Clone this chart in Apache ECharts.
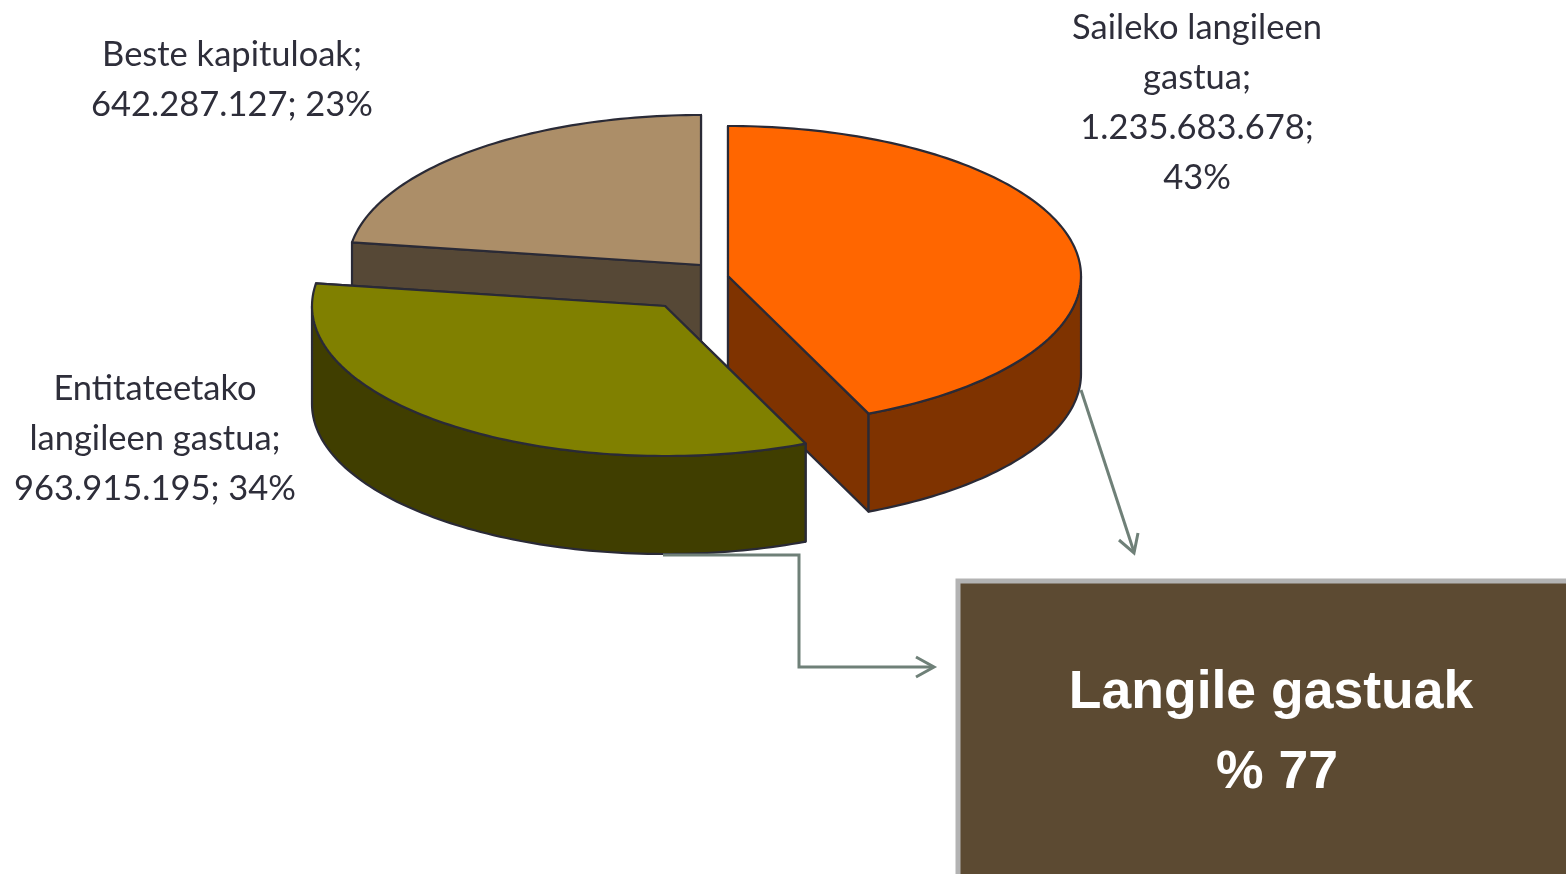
<!DOCTYPE html>
<html>
<head>
	<meta charset="utf-8" />
	<title>Langile gastuak</title>
	<script type="text/javascript" src="https://cdn.jsdelivr.net/npm/echarts@6/dist/echarts.min.js"></script>
	<style type="text/css">
		html, body { margin: 0; padding: 0; background: #fff; }
		#container { width: 1566px; height: 874px; }
	</style>
</head>
<body>
<div id="container"></div>
<script type="text/javascript">
	// datuak
	var categories = ['Saileko langileen\ngastua', 'Entitateetako\nlangileen gastua', 'Beste kapituloak'];
	var values = [1235683678, 963915195, 642287127];
	var labelJoin = [';\n', '; ', '; '];   // balioa eta ehunekoa arteko lotura
	var personnelIdx = [0, 1];             // langile gastuak = lehen bi zatiak

	// estiloak
	var topColors = ['#FF6600', '#808000', '#AC8E68'];
	var sideColors = ['#7F3300', '#403E00', '#564836'];
	var explode = [[28, 1], [-35, 31], [1, -10]];  // zati bakoitzaren desplazamendua
	var zOrder = [2, 3, 1];
	var labelPos = [[1197, 3], [155, 364], [232, 30]];
	var squash = 0.425, depth = 98;

	var total = values.reduce(function (a, b) { return a + b; }, 0);
	var cum = 0;
	var sliceData = values.map(function (v) { var d = [cum, cum + v]; cum += v; return d; });

	function fmt(n) { return String(n).replace(/\B(?=(\d{3})+(?!\d))/g, '.'); }
	function pct(v) { return Math.round(v / total * 100); }

	var chart = echarts.init(document.getElementById('container'));

	function renderItem(params, api) {
		var i = params.dataIndex;
		var s = api.value(0), e = api.value(1);
		var cy = params.coordSys.cy;
		var off = explode[i];
		function P(r, v, dz) {
			var p = api.coord([r, v]);
			return [p[0] + off[0], cy + (p[1] - cy) * squash + off[1] + (dz || 0)];
		}
		function arc(a, b, dz) {
			var n = Math.max(2, Math.ceil((b - a) / total * 300));
			var pts = [];
			for (var k = 0; k <= n; k++) pts.push(P(1, a + (b - a) * k / n, dz));
			return pts;
		}
		var base = zOrder[i] * 10;
		function poly(points, fill, z) {
			return { type: 'polygon', z2: z, shape: { points: points },
				style: { fill: fill, stroke: '#2A2A36', lineWidth: 2.2, lineJoin: 'round' } };
		}
		var children = [];
		// alboko aurpegi erradialak
		[s, e].forEach(function (v) {
			children.push(poly([P(0, v), P(1, v), P(1, v, depth), P(0, v, depth)], sideColors[i], base + 1));
		});
		// aurreko horma
		var ws = Math.max(s, total * 0.25), we = Math.min(e, total * 0.75);
		if (we > ws) {
			var topArc = arc(ws, we, 0);
			var botArc = arc(ws, we, depth).reverse();
			children.push(poly(topArc.concat(botArc), sideColors[i], base + 2));
		}
		// goiko aurpegia
		children.push(poly([P(0, s)].concat(arc(s, e, 0)), topColors[i], base + 3));
		return { type: 'group', children: children };
	}

	var graphics = [];
	categories.forEach(function (name, i) {
		graphics.push({
			type: 'text', x: labelPos[i][0], y: labelPos[i][1], z: 10,
			style: {
				text: name + ';\n' + fmt(values[i]) + labelJoin[i] + pct(values[i]) + '%',
				font: '34.5px Lato', fill: '#2E2E3A', lineHeight: 50,
				align: 'center', textAlign: 'center', verticalAlign: 'top', textVerticalAlign: 'top'
			}
		});
	});

	var personnelPct = Math.round(personnelIdx.reduce(function (a, k) { return a + values[k]; }, 0) / total * 100);
	var arrowStyle = { stroke: '#6F8078', lineWidth: 3, fill: null };
	var boxFont = 'bold 53.5px "Liberation Sans", Arial';
	graphics.push(
		{ type: 'rect', z: 5, shape: { x: 958, y: 581, width: 640, height: 320 },
			style: { fill: '#5C4A32', stroke: '#B3B3B3', lineWidth: 5 } },
		{ type: 'text', x: 1271, y: 693, z: 10,
			style: { text: 'Langile gastuak', font: boxFont, fill: '#fff',
				align: 'center', textAlign: 'center', verticalAlign: 'middle', textVerticalAlign: 'middle' } },
		{ type: 'text', x: 1277, y: 773, z: 10,
			style: { text: '% ' + personnelPct, font: boxFont, fill: '#fff',
				align: 'center', textAlign: 'center', verticalAlign: 'middle', textVerticalAlign: 'middle' } },
		{ type: 'polyline', z: 5, shape: { points: [[1081, 390], [1134, 552]] }, style: arrowStyle },
		{ type: 'polyline', z: 5, shape: { points: [[1119, 540], [1134, 553], [1138, 533]] }, style: arrowStyle },
		{ type: 'polyline', z: 5, shape: { points: [[663, 555], [799, 555], [799, 667], [933, 667]] }, style: arrowStyle },
		{ type: 'polyline', z: 5, shape: { points: [[916, 657], [934, 667], [916, 677]] }, style: arrowStyle }
	);

	var options = {
		animation: false,
		polar: { center: [700, 275], radius: 353 },
		angleAxis: {
			type: 'value', min: 0, max: total, startAngle: 90, clockwise: true,
			show: false, axisLine: { show: false }, axisTick: { show: false },
			axisLabel: { show: false }, splitLine: { show: false }
		},
		radiusAxis: {
			type: 'value', min: 0, max: 1,
			show: false, axisLine: { show: false }, axisTick: { show: false },
			axisLabel: { show: false }, splitLine: { show: false }
		},
		series: [{
			type: 'custom',
			coordinateSystem: 'polar',
			clip: false,
			renderItem: renderItem,
			data: sliceData
		}],
		graphic: { elements: graphics }
	};
	chart.setOption(options);
</script>
</body>
</html>
